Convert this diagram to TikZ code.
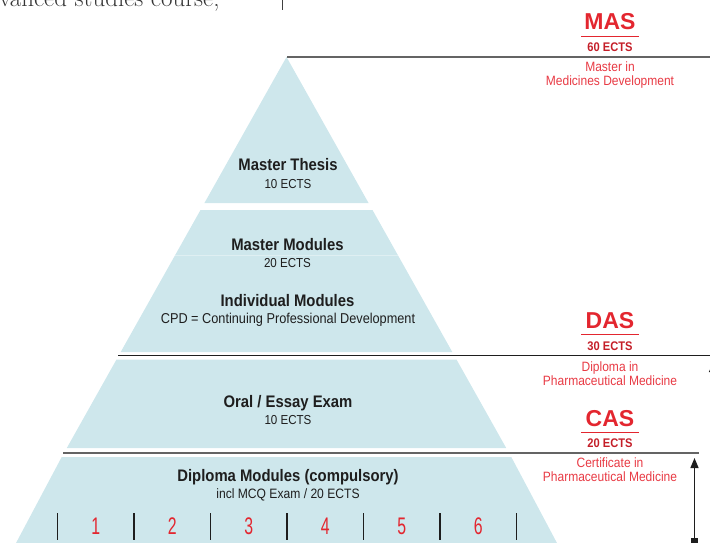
\documentclass[tikz,border=0pt]{standalone}
\usepackage{fontspec}
\usetikzlibrary{arrows.meta}
\newfontfamily\cf[FakeStretch=0.89]{Liberation Sans}
\newfontfamily\wf{Liberation Sans}
\newfontfamily\nf[FakeStretch=0.66]{Liberation Sans}
\definecolor{pyr}{RGB}{206,231,236}
\definecolor{mred}{RGB}{227,38,47}
\definecolor{dred}{RGB}{196,30,40}
\definecolor{lred}{RGB}{232,58,68}
\definecolor{ink}{RGB}{30,30,30}
\definecolor{rulegray}{RGB}{100,100,100}
\begin{document}
\begin{tikzpicture}[x=1pt,y=-1pt,
  lbl/.style={inner sep=0pt, outer sep=0pt, anchor=base},
  bigl/.style={lbl, font=\wf\bfseries\fontsize{23}{23}\selectfont, text=mred},
  ects/.style={lbl, font=\cf\bfseries\fontsize{12.5}{12.5}\selectfont, text=dred},
  desc/.style={lbl, font=\cf\fontsize{13.5}{13.5}\selectfont, text=lred},
  head/.style={lbl, font=\cf\bfseries\fontsize{16.7}{16.7}\selectfont, text=ink},
  sub/.style={lbl, font=\cf\fontsize{13}{13}\selectfont, text=ink},
  num/.style={lbl, font=\nf\fontsize{24}{24}\selectfont, text=mred},
  layer/.style={fill=pyr, draw=none},
  redrule/.style={draw=mred, line width=1.2pt},
  bar/.style={draw=ink, line width=1.4pt},
]
\useasboundingbox (0,0) rectangle (710,543);
\clip (0,0) rectangle (710,543);

% intro text (cut off at top)
\node[lbl, anchor=base west, font=\fontsize{25}{25}\selectfont, text=ink!90] (intro) at (-1,6.5) {vanced studies course,};
\coordinate (vt) at (282,0); \coordinate (vb) at (282,10);
\draw[ink!85, line width=0.9pt] (vt) -- (vb);

% pyramid layers
\fill[layer] (286.5,57) -- (368.55,203) -- (204.45,203) -- cycle;
\fill[layer] (200.5,210) -- (372.5,210) -- (452.3,352) -- (120.7,352) -- cycle;
\draw[white, opacity=0.35, line width=0.8pt] (175.2,255) -- (397.8,255);
\fill[layer] (116.5,359.5) -- (456.5,359.5) -- (506.2,448) -- (66.8,448) -- cycle;
\fill[layer] (61.7,457) -- (511.3,457) -- (566,560) -- (7,560) -- cycle;

% level rules
\coordinate (masL) at (287,57);   \coordinate (masR) at (712,57);
\coordinate (dasL) at (118,355.5); \coordinate (dasR) at (712,355.5);
\coordinate (casL) at (63,453);   \coordinate (casR) at (699,453);
\draw[rulegray, line width=1.5pt] (masL) -- (masR);
\draw[ink, line width=1.5pt] (dasL) -- (dasR);
\draw[rulegray, line width=1.9pt] (casL) -- (casR);

% MAS block
\node[bigl] (mas) at (610,30) {MAS};
\coordinate (masU1) at (581,36.5); \coordinate (masU2) at (639,36.5);
\draw[redrule] (masU1) -- (masU2);
\node[ects] (mase) at (610,52) {60 ECTS};
\node[desc] (masd1) at (610,71.5) {Master in};
\node[desc] (masd2) at (610,85.5) {Medicines Development};

% DAS block
\node[bigl] (das) at (610,328) {DAS};
\coordinate (dasU1) at (581,334.5); \coordinate (dasU2) at (639,334.5);
\draw[redrule] (dasU1) -- (dasU2);
\node[ects] (dase) at (610,350) {30 ECTS};
\node[desc] (dasd1) at (610,371) {Diploma in};
\node[desc] (dasd2) at (610,385) {Pharmaceutical Medicine};

% CAS block
\node[bigl] (cas) at (610,426) {CAS};
\coordinate (casU1) at (581,432.5); \coordinate (casU2) at (639,432.5);
\draw[redrule] (casU1) -- (casU2);
\node[ects] (case) at (610,447) {20 ECTS};
\node[desc] (casd1) at (610,467) {Certificate in};
\node[desc] (casd2) at (610,481) {Pharmaceutical Medicine};

% pyramid labels
\node[head] (thesis) at (288,170) {Master Thesis};
\node[sub]  (thesise) at (288,188) {10 ECTS};
\node[head] (mmod) at (287.5,250) {Master Modules};
\node[sub]  (mmode) at (287.5,267) {20 ECTS};
\node[head] (imod) at (287.5,306) {Individual Modules};
\node[sub, font=\cf\fontsize{14.3}{14.3}\selectfont] (cpd) at (288,323) {CPD = Continuing Professional Development};
\node[head] (oral) at (288,407) {Oral / Essay Exam};
\node[sub]  (orale) at (288,424) {10 ECTS};
\node[head] (dipl) at (288,481) {Diploma Modules (compulsory)};
\node[sub, font=\cf\fontsize{13.6}{13.6}\selectfont]  (diple) at (288,498) {incl MCQ Exam / 20 ECTS};

% module bars and numbers
\foreach \i in {0,...,6} {
  \coordinate (bt\i) at (57.5+76.5*\i,513);
  \coordinate (bb\i) at (57.5+76.5*\i,540);
  \draw[bar] (bt\i) -- (bb\i);
}
\foreach \i in {1,...,6} {
  \node[num] (m\i) at (57.5+76.5*\i-38.25,534.5) {\i};
}

% CAS arrow
\node[fill=ink, minimum size=7pt, inner sep=0pt] (sq) at (694.5,541.5) {};
\coordinate (tip) at (694.5,458);
\draw[ink, line width=1.3pt, -{Triangle[width=8pt,length=10pt]}] (sq.center) -- (tip);

% partial arrow at right edge
\coordinate (edgeB) at (712.5,420);
\coordinate (edgeT) at (712.5,364);
\draw[ink, line width=1.2pt, -{Triangle[width=7pt,length=8pt]}] (edgeB) -- (edgeT);
\end{tikzpicture}
\end{document}
